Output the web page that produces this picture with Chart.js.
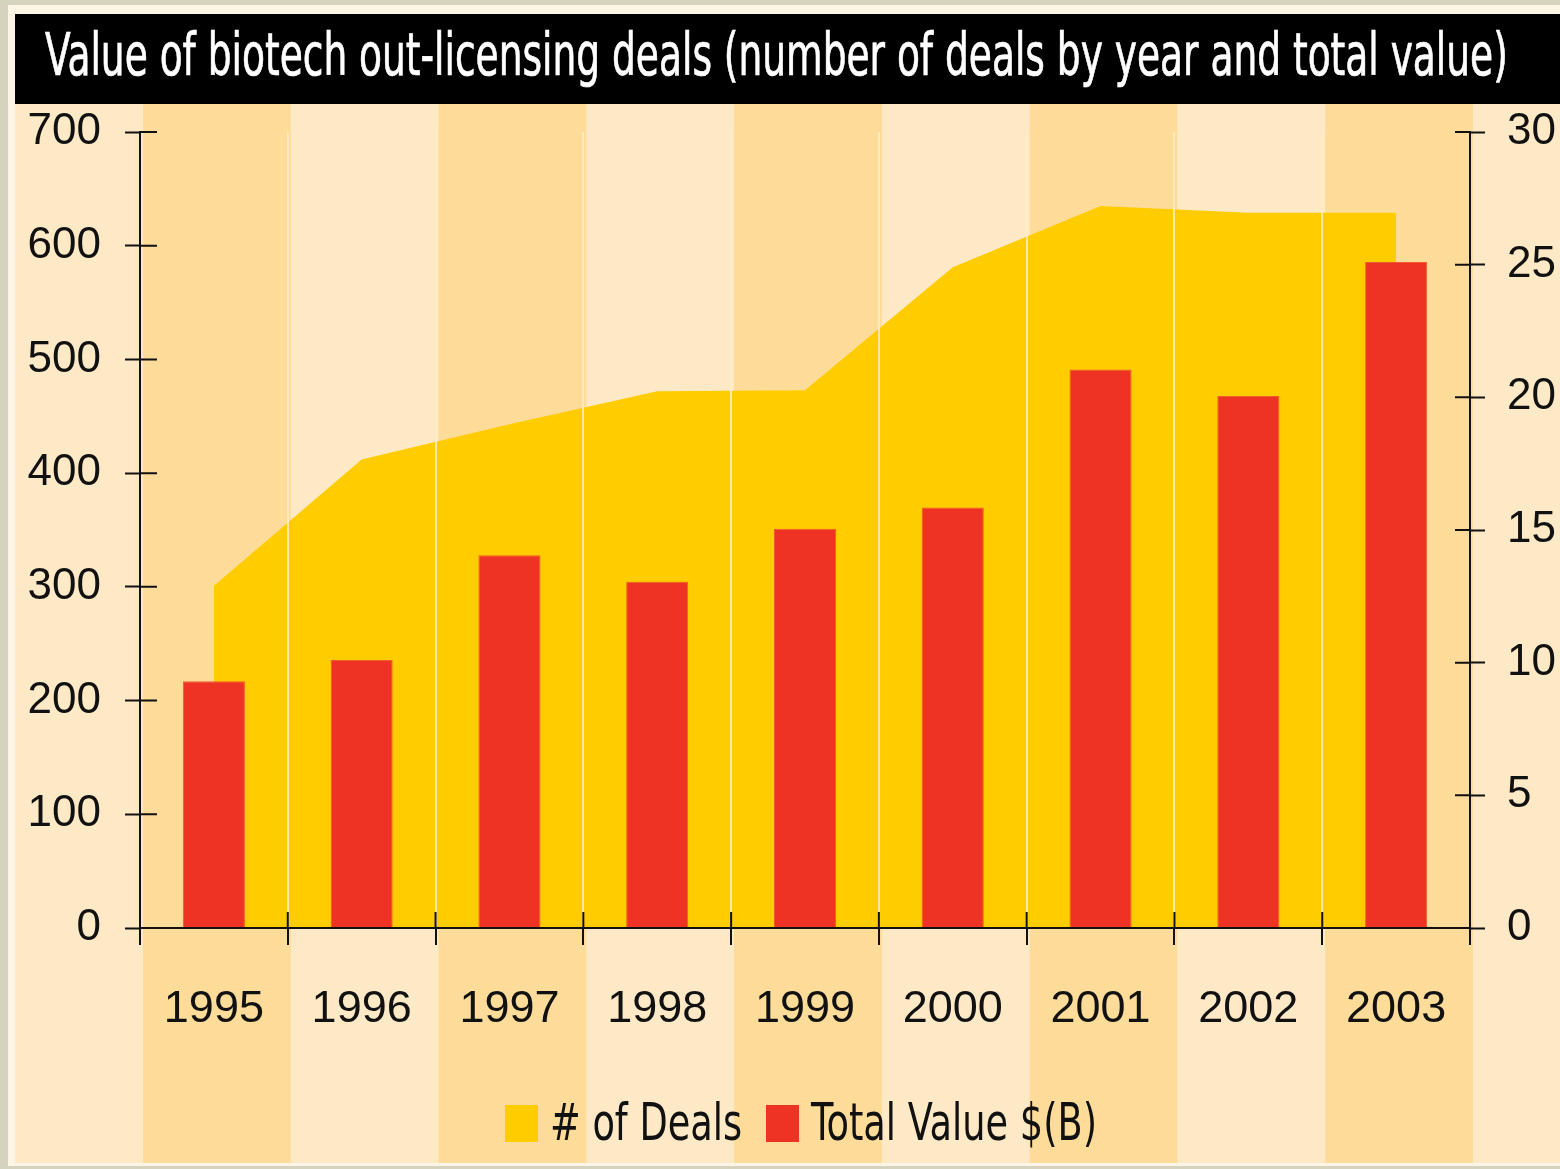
<!DOCTYPE html>
<html>
<head>
<meta charset="utf-8">
<script src="https://cdn.jsdelivr.net/npm/chart.js@4.4.1/dist/chart.umd.min.js"></script>
<style>
  html, body { margin: 0; padding: 0; }
  body { width: 1560px; height: 1169px; background: #d5d2bd; position: relative; overflow: hidden; }
  #frame { position: absolute; left: 8px; top: 5px; width: 1552px; height: 1161px; background: #fcf5e6; }
  #panel { position: absolute; left: 15px; top: 14px; width: 1545px; height: 1149px; }
  #title { position: absolute; left: 0; top: 0; width: 1545px; height: 90px; background: #000; overflow: hidden; }
  #titleText { position: absolute; left: 30px; top: 12px; font: 58px/58px "Liberation Sans Narrow", "DejaVu Sans Condensed", "Liberation Sans", sans-serif; color: #fff; -webkit-text-stroke: 0.7px #fff; white-space: nowrap; transform-origin: 0 50%; }
  #box { position: absolute; left: 0; top: 90px; width: 1545px; height: 1059px; }
  #legend { position: absolute; left: 136px; top: 1097px; width: 1330px; display: flex; justify-content: center; align-items: flex-start;
            font: 51px/51px "Liberation Sans Narrow", "DejaVu Sans Condensed", "Liberation Sans", sans-serif; color: #111; }
  #legend .sw { width: 33px; height: 37px; margin-top: 8px; margin-right: 12px; }
  #legend .tx { display: inline-block; white-space: nowrap; overflow: visible; }
  #legend .tx span { display: inline-block; transform-origin: 0 50%; }
  #legend .item { display: flex; align-items: flex-start; margin: 0 12px; }
</style>
</head>
<body>
<div id="frame"></div>
<div id="panel">
  <div id="title"><span id="titleText">Value of biotech out-licensing deals (number of deals by year and total value)</span></div>
  <div id="box"><canvas id="chart"></canvas></div>
</div>
<div id="legend"></div>
<script>
const years = ["1995", "1996", "1997", "1998", "1999", "2000", "2001", "2002", "2003"];
const dealCounts = [301, 412, 443, 472, 473, 581, 635, 629, 629];
const totalValue = [9.3, 10.1, 14.05, 13.05, 15.05, 15.85, 21.05, 20.05, 25.1];
const dealAxis = { min: 0, max: 700, step: 100 };
const valueAxis = { min: 0, max: 30, step: 5 };

const LIGHT = "#fee9c7";
const DARK = "#fddb98";
const INK = "#111";
const SANS = "'Liberation Sans', Arial, sans-serif";

// fit the title into the black bar
const titleText = document.getElementById("titleText");
titleText.style.transform = `scaleX(${1463 / titleText.offsetWidth})`;

const stripes = {
  id: "stripes",
  beforeDraw(chart){
    const {ctx, scales: {x}} = chart;
    const half = (x.getPixelForValue(1) - x.getPixelForValue(0)) / 2;
    ctx.save();
    ctx.fillStyle = LIGHT;
    ctx.fillRect(0, 0, chart.width, chart.height);
    ctx.fillStyle = DARK;
    years.forEach((y, i) => {
      if(i % 2 === 0) ctx.fillRect(x.getPixelForValue(i) - half + 3, 0, half * 2, chart.height);
    });
    ctx.restore();
  }
};

// tick marks that cross the axis lines
const crossTicks = {
  id: "crossTicks",
  afterDraw(chart){
    const {ctx, scales: {x, y, y1}} = chart;
    ctx.save();
    ctx.strokeStyle = INK;
    ctx.lineWidth = 2;
    ctx.beginPath();
    y.ticks.forEach(t => {
      const py = y.getPixelForValue(t.value);
      ctx.moveTo(y.right, py); ctx.lineTo(y.right + 17, py);
    });
    y1.ticks.forEach(t => {
      const py = y1.getPixelForValue(t.value);
      ctx.moveTo(y1.left - 15, py); ctx.lineTo(y1.left, py);
    });
    const half = (x.getPixelForValue(1) - x.getPixelForValue(0)) / 2;
    for(let i = 1; i < years.length; i++){
      const px = x.getPixelForValue(i) - half;
      ctx.moveTo(px, x.top - 16); ctx.lineTo(px, x.top);
    }
    ctx.stroke();
    ctx.restore();
  }
};

const fitSide = w => s => { s.width = w; s.paddingTop = 0; s.paddingBottom = 0; };

const chart = new Chart(document.getElementById("chart"), {
  data: {
    labels: years,
    datasets: [
      { type: "line", label: "# of Deals", data: dealCounts, yAxisID: "y", order: 1,
        fill: "origin", backgroundColor: "#ffcc00", borderColor: "#ffcc00", borderWidth: 0,
        pointRadius: 0, tension: 0 },
      { type: "bar", label: "Total Value $(B)", data: totalValue, yAxisID: "y1", order: 0,
        backgroundColor: "#ee3224", borderColor: "#f25a2a", borderWidth: 1,
        categoryPercentage: 1, barPercentage: 0.42 }
    ]
  },
  options: {
    responsive: true,
    maintainAspectRatio: false,
    animation: false,
    layout: { padding: { top: 28, left: 0, right: 0, bottom: 0 } },
    plugins: {
      tooltip: { enabled: false },
      legend: { display: false }
    },
    scales: {
      x: {
        offset: true,
        grid: { offset: true, z: 1, color: "rgba(255,236,196,0.85)", lineWidth: 2, tickColor: INK, tickWidth: 2, tickLength: 17 },
        border: { color: INK, width: 2, z: 1 },
        ticks: { color: INK, font: { family: SANS, size: 45 }, padding: 38, maxRotation: 0 },
        afterFit: s => { s.height = 235; }
      },
      y: {
        position: "left",
        min: dealAxis.min, max: dealAxis.max,
        ticks: { stepSize: dealAxis.step, color: INK, font: { family: SANS, size: 44 }, padding: 24 },
        grid: { drawOnChartArea: false, tickColor: INK, tickWidth: 2, tickLength: 15 },
        border: { color: INK, width: 2, z: 1 },
        afterFit: fitSide(125)
      },
      y1: {
        position: "right",
        min: valueAxis.min, max: valueAxis.max,
        ticks: { stepSize: valueAxis.step, color: INK, font: { family: SANS, size: 44 }, padding: 22 },
        grid: { drawOnChartArea: false, tickColor: INK, tickWidth: 2, tickLength: 15 },
        border: { color: INK, width: 2, z: 1 },
        afterFit: fitSide(90)
      }
    }
  },
  plugins: [stripes, crossTicks]
});

// legend built from the chart's datasets, text squeezed like the condensed original
const legend = document.getElementById("legend");
chart.data.datasets.forEach(ds => {
  const item = document.createElement("div");
  item.className = "item";
  item.innerHTML = `<div class="sw" style="background:${ds.backgroundColor}"></div><div class="tx"><span></span></div>`;
  item.querySelector(".tx span").textContent = ds.label;
  legend.appendChild(item);
});
const squeeze = 0.8;
legend.querySelectorAll(".tx").forEach(tx => {
  const sp = tx.firstChild;
  const w = sp.getBoundingClientRect().width;
  sp.style.transform = `scaleX(${squeeze})`;
  tx.style.width = (w * squeeze) + "px";
});
</script>
</body>
</html>
